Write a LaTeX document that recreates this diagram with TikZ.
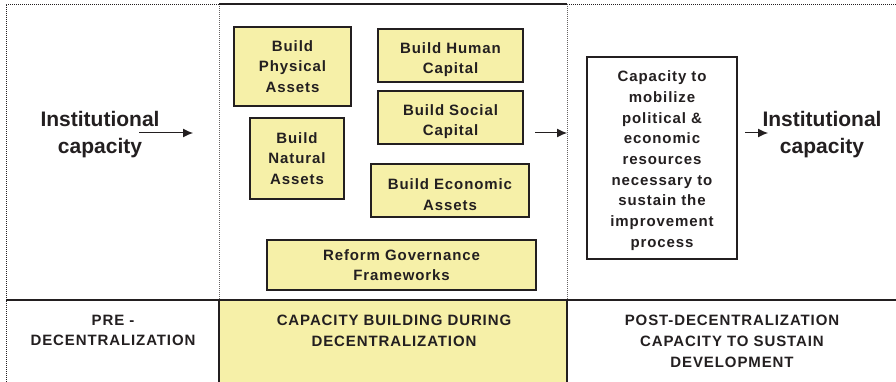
\documentclass[tikz,border=0pt]{standalone}
\usepackage{fontspec}
\setmainfont{Liberation Sans}
\newfontfamily\spacedfont[LetterSpace=6]{Liberation Sans}
\usetikzlibrary{arrows.meta}
\definecolor{boxyellow}{RGB}{246,240,168}
\definecolor{inkgray}{RGB}{35,31,32}
\newcommand{\dnstrut}{\rule{0pt}{19pt}}
\begin{document}
\begin{tikzpicture}[x=1pt,y=-1pt,
  yb/.style={draw=inkgray, line width=1.3pt, fill=boxyellow, align=center, inner sep=0pt,
    font=\spacedfont\bfseries\fontsize{15}{20.7}\selectfont, text=inkgray},
  wb/.style={yb, fill=white},
  lbl/.style={align=center, inner sep=0pt, text=inkgray,
    font=\spacedfont\bfseries\fontsize{15}{20.7}\selectfont},
  big/.style={align=center, inner sep=0pt, text=inkgray,
    font=\bfseries\fontsize{21}{27}\selectfont},
  dotline/.style={draw=inkgray, line width=0.8pt, dash pattern=on 1pt off 1pt},
  vdotline/.style={draw=inkgray!70, line width=0.7pt, dash pattern=on 1pt off 1pt},
  solidline/.style={draw=inkgray, line width=1.1pt},
  arr/.style={draw=inkgray, line width=1pt, -{Latex[length=10pt,width=9pt]}}
]
\useasboundingbox (0,0) rectangle (896,382);
% panels
\fill[boxyellow] (219,300) rectangle (567,382);
\draw[dotline] (219,4) -- (6,4) -- (6,382);
\draw[dotline] (567,4) -- (896,4);
\draw[vdotline] (219,4) -- (219,300);
\draw[vdotline] (567,4) -- (567,300);
\draw[solidline] (219,4) -- (567,4);
\draw[solidline] (6,300) -- (896,300);
\draw[solidline] (219,300) -- (219,382);
\draw[solidline] (567,300) -- (567,382);

% boxes
\node[yb, minimum width=117pt, minimum height=79pt] (phys) at (292.5,66.5) {Build\\Physical\\Assets};
\node[yb, minimum width=145pt, minimum height=53pt] (human) at (450.5,55.5) {\dnstrut Build Human\\Capital};
\node[yb, minimum width=145pt, minimum height=53pt] (social) at (450.5,117.5) {\dnstrut Build Social\\Capital};
\node[yb, minimum width=94pt, minimum height=81pt] (natural) at (297,158.5) {Build\\Natural\\Assets};
\node[yb, minimum width=158pt, minimum height=53pt] (econ) at (450,190.5) {\dnstrut Build Economic\\Assets};
\node[yb, minimum width=269pt, minimum height=50pt] (reform) at (401.5,265) {Reform Governance\\Frameworks};
\node[wb, minimum width=150pt, minimum height=202pt] (cap) at (662,158) {\rule{0pt}{16pt}Capacity to\\mobilize\\political \&\\economic\\resources\\necessary to\\sustain the\\improvement\\process};

% big labels
\node[big] (inL) at (100,134.5) {Institutional\\capacity};
\node[big] (inR) at (822,135) {Institutional\\capacity};

% bottom labels
\node[lbl] (pre) at (113,330.5) {PRE -\\DECENTRALIZATION};
\node[lbl] (during) at (394,330.5) {CAPACITY BUILDING DURING\\DECENTRALIZATION};
\node[lbl] (post) at (732,341.5) {POST-DECENTRALIZATION\\CAPACITY TO SUSTAIN\\DEVELOPMENT};

% arrows
\coordinate (a1s) at (139,133);
\coordinate (a1e) at (193,133);
\coordinate (a2s) at (535,133);
\coordinate (a2e) at (567,133);
\coordinate (a3s) at (745,133);
\coordinate (a3e) at (768,133);
\draw[arr] (a1s) -- (a1e);
\draw[arr] (a2s) -- (a2e);
\draw[arr] (a3s) -- (a3e);
\end{tikzpicture}
\end{document}
